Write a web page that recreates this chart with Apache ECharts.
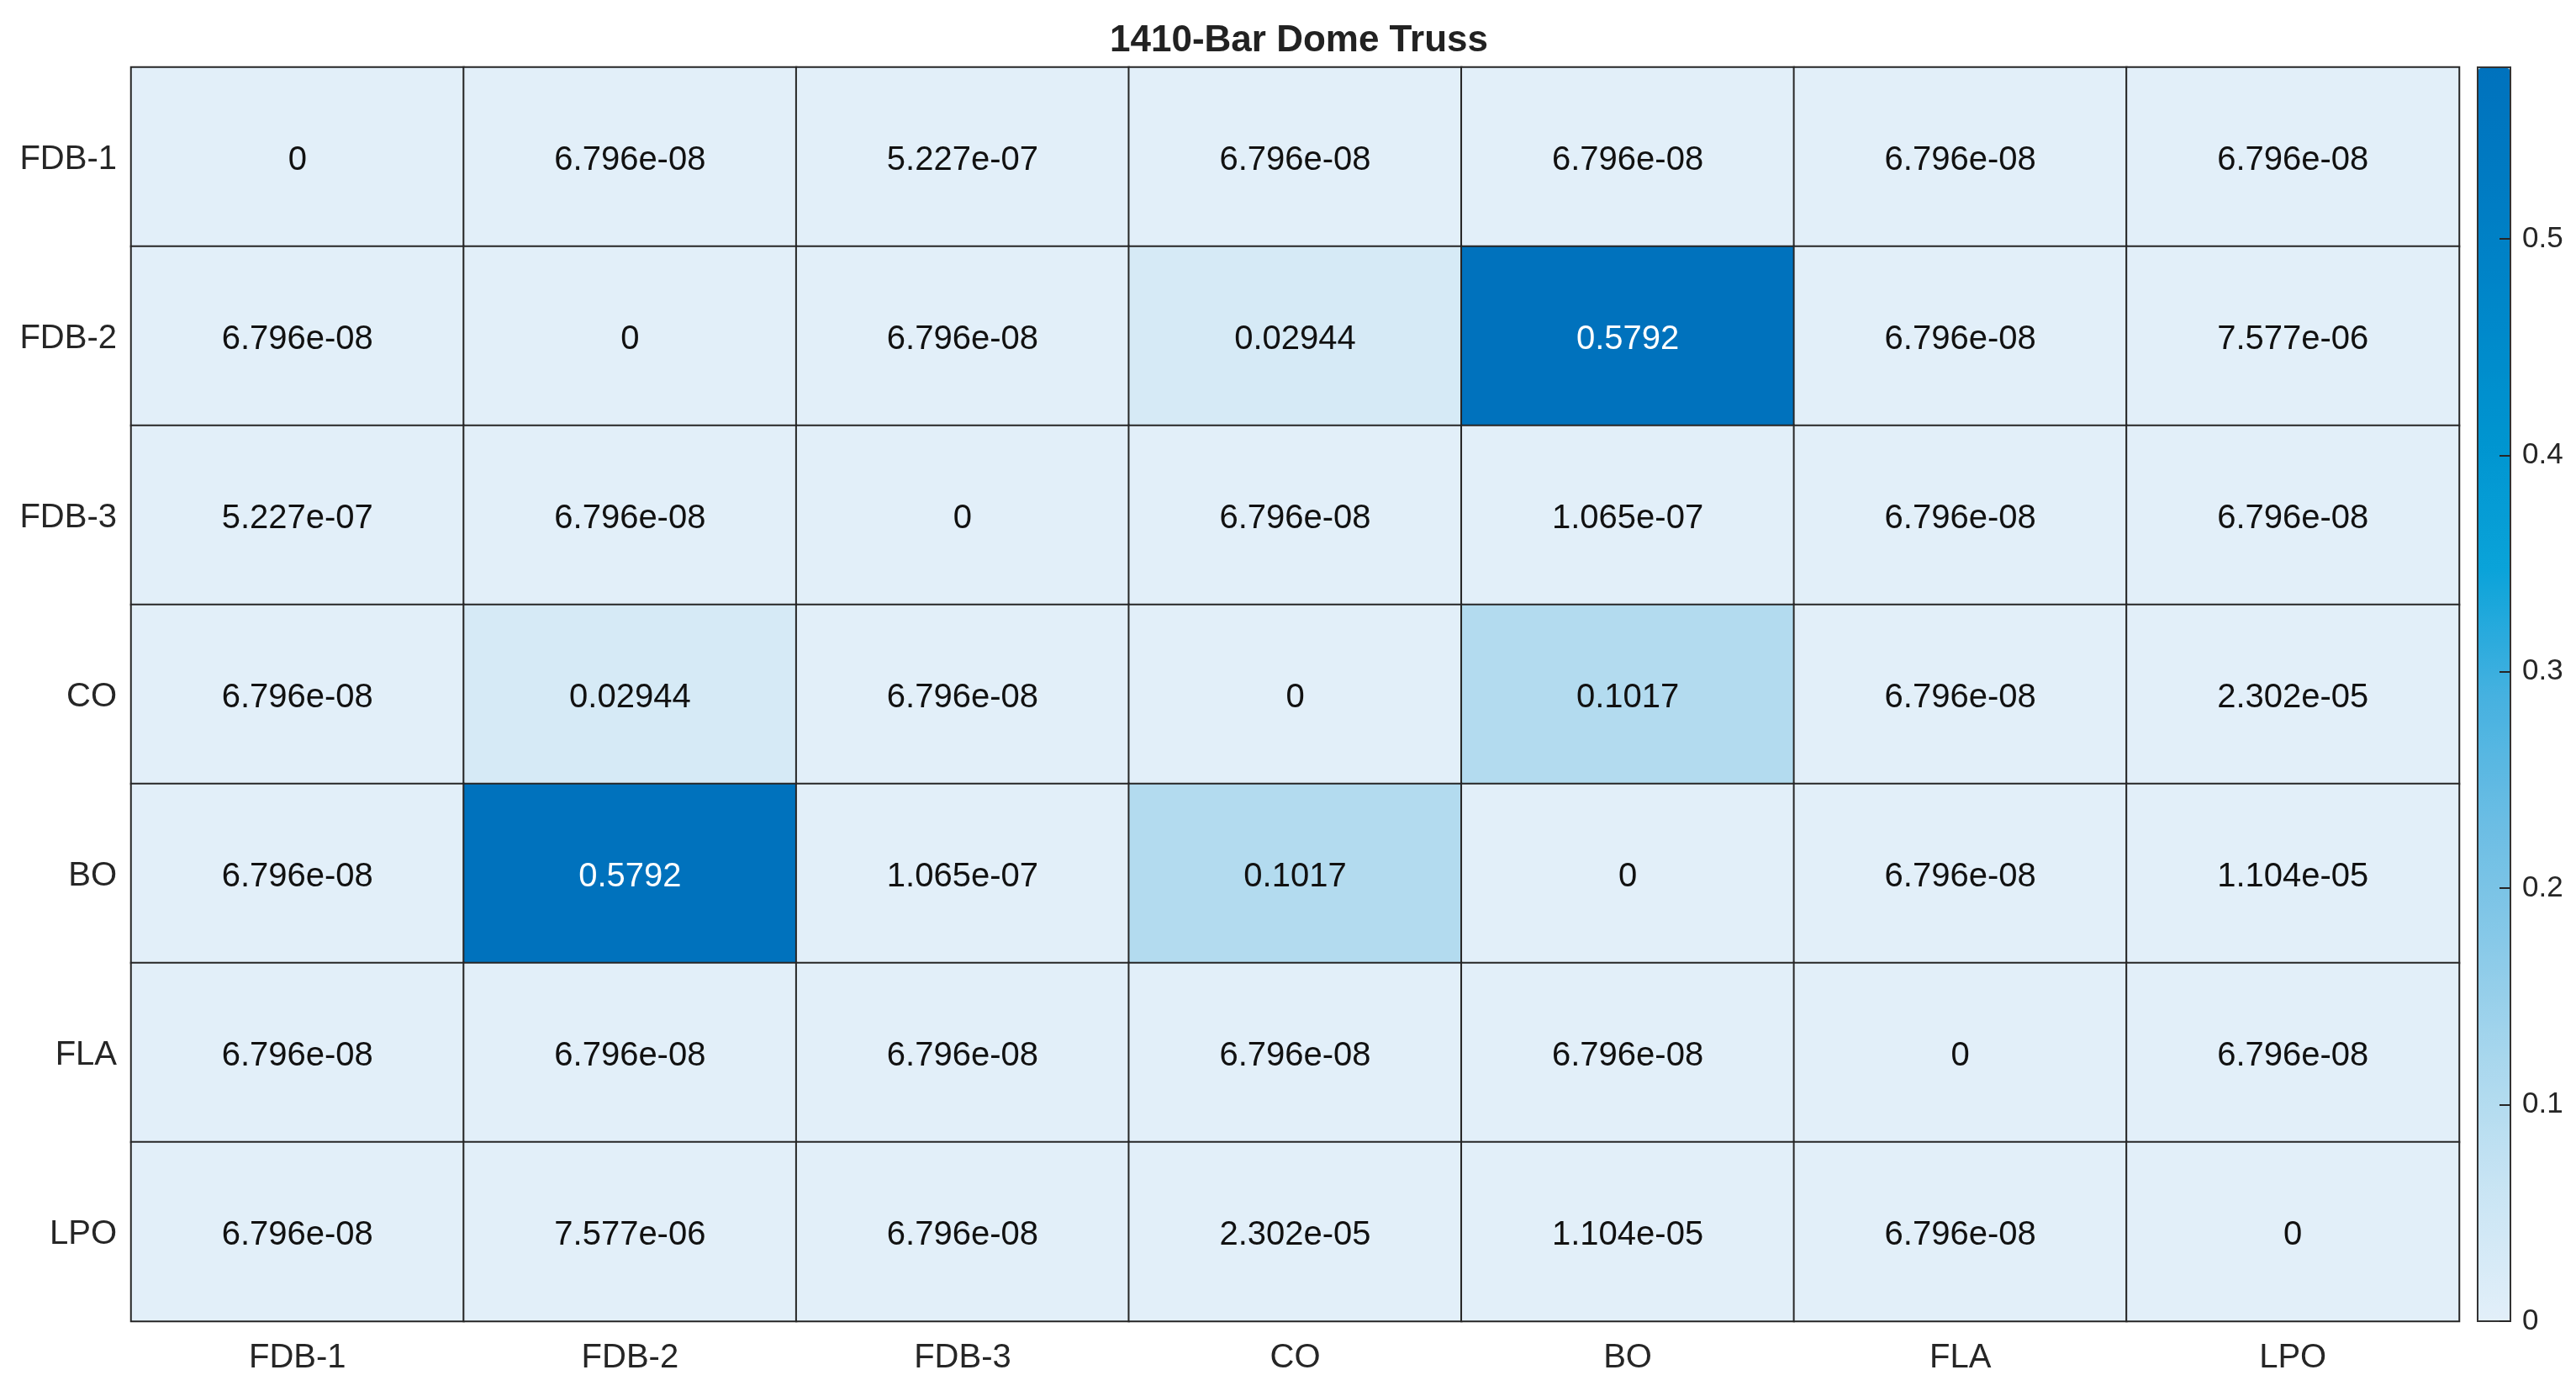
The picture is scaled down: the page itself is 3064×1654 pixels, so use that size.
<!DOCTYPE html>
<html>
<head>
<meta charset="utf-8">
<script src="https://cdn.jsdelivr.net/npm/echarts@6/dist/echarts.min.js"></script>
<style>html,body{margin:0;padding:0;background:#fff}#c{width:3064px;height:1654px}</style>
</head>
<body>
<div id="c"></div>
<script>
const title = '1410-Bar Dome Truss';
const categories = ['FDB-1', 'FDB-2', 'FDB-3', 'CO', 'BO', 'FLA', 'LPO'];
// rows top to bottom, columns left to right
const rowFDB1 = [0, 6.796e-08, 5.227e-07, 6.796e-08, 6.796e-08, 6.796e-08, 6.796e-08];
const rowFDB2 = [6.796e-08, 0, 6.796e-08, 0.02944, 0.5792, 6.796e-08, 7.577e-06];
const rowFDB3 = [5.227e-07, 6.796e-08, 0, 6.796e-08, 1.065e-07, 6.796e-08, 6.796e-08];
const rowCO   = [6.796e-08, 0.02944, 6.796e-08, 0, 0.1017, 6.796e-08, 2.302e-05];
const rowBO   = [6.796e-08, 0.5792, 1.065e-07, 0.1017, 0, 6.796e-08, 1.104e-05];
const rowFLA  = [6.796e-08, 6.796e-08, 6.796e-08, 6.796e-08, 6.796e-08, 0, 6.796e-08];
const rowLPO  = [6.796e-08, 7.577e-06, 6.796e-08, 2.302e-05, 1.104e-05, 6.796e-08, 0];
const colorMin = 0;
const colorMax = 0.5792;
const colorbarTicks = [0, 0.1, 0.2, 0.3, 0.4, 0.5];

const rows = [rowFDB1, rowFDB2, rowFDB3, rowCO, rowBO, rowFLA, rowLPO];
const data = [];
rows.forEach((r, yi) => r.forEach((v, xi) => data.push([xi, yi, v])));

function fmt4g(v) {
  if (v === 0) return '0';
  const e = Math.floor(Math.log10(Math.abs(v)));
  if (e < -4 || e >= 4) {
    const parts = v.toExponential(3).split('e');
    let ex = parseInt(parts[1], 10);
    const sign = ex < 0 ? '-' : '+';
    ex = Math.abs(ex);
    return parts[0] + 'e' + sign + (ex < 10 ? '0' + ex : '' + ex);
  }
  let s = v.toPrecision(4);
  if (s.indexOf('.') >= 0) s = s.replace(/0+$/, '').replace(/\.$/, '');
  return s;
}

const FONT = '"Liberation Sans", Arial, Helvetica, sans-serif';
const chart = echarts.init(document.getElementById('c'), null, {renderer: 'canvas'});
chart.setOption({
  backgroundColor: '#ffffff',
  animation: false,
  textStyle: {fontFamily: FONT},
  title: {
    text: title,
    left: 1540,
    textAlign: 'center',
    top: 22,
    textStyle: {fontFamily: FONT, fontSize: 44, fontWeight: 'bold', color: '#222222'}
  },
  grid: [
    {left: 156, top: 80, width: 2769, height: 1491, containLabel: false},
    {left: 2947, top: 80, width: 39, height: 1491, show: true, borderColor: '#333333', borderWidth: 2, backgroundColor: 'transparent', z: 0}
  ],
  xAxis: [
    {
      type: 'category', gridIndex: 0, data: categories, position: 'bottom',
      axisLine: {show: false}, axisTick: {show: false}, splitLine: {show: false},
      axisLabel: {fontFamily: FONT, fontSize: 40, color: '#262626', margin: 24}
    },
    {type: 'value', gridIndex: 1, show: false, min: 0, max: 1}
  ],
  yAxis: [
    {
      type: 'category', gridIndex: 0, data: categories, inverse: true,
      axisLine: {show: false}, axisTick: {show: false}, splitLine: {show: false},
      axisLabel: {fontFamily: FONT, fontSize: 40, color: '#262626', margin: 17,
        formatter: v => '{a|' + v + '}',
        rich: {a: {fontFamily: FONT, fontSize: 40, color: '#262626', padding: [7, 0, 0, 0]}}}
    },
    {
      type: 'value', gridIndex: 1, position: 'right', min: colorMin, max: colorMax, z: 10,
      axisLine: {show: true, onZero: false, lineStyle: {color: '#333333', width: 2}},
      axisTick: {show: true, inside: true, length: 13, lineStyle: {color: '#262626', width: 2}, customValues: colorbarTicks},
      splitLine: {show: false},
      axisLabel: {fontFamily: FONT, fontSize: 35, color: '#262626', margin: 14, customValues: colorbarTicks,
        formatter: v => String(Math.round(v * 10) / 10)}
    }
  ],
  visualMap: {
    type: 'continuous',
    min: colorMin, max: colorMax,
    seriesIndex: 0,
    calculable: false,
    orient: 'vertical',
    left: 2948, top: 81,
    itemWidth: 37, itemHeight: 1489,
    padding: 0,
    text: null,
    showLabel: false,
    z: 2,
    inRange: {
      color: ['#E2EFF9', '#CAE5F4', '#ABD8EE', '#88C9E8', '#6ABDE4', '#45B1E0',
              '#0AA3D9', '#0095D0', '#0088CA', '#007CC3', '#0072BD']
    }
  },
  series: [{
    type: 'heatmap',
    xAxisIndex: 0, yAxisIndex: 0,
    data: data,
    itemStyle: {borderColor: '#262626', borderWidth: 2},
    label: {
      show: true,
      fontFamily: FONT, fontSize: 40, color: '#111111',
      offset: [0, 4],
      formatter: p => {
        const v = p.value[2];
        const s = fmt4g(v);
        return v > 0.4 ? '{w|' + s + '}' : s;
      },
      rich: {w: {color: '#ffffff', fontFamily: FONT, fontSize: 40}}
    },
    emphasis: {disabled: true}
  }]
});
</script>
</body>
</html>
